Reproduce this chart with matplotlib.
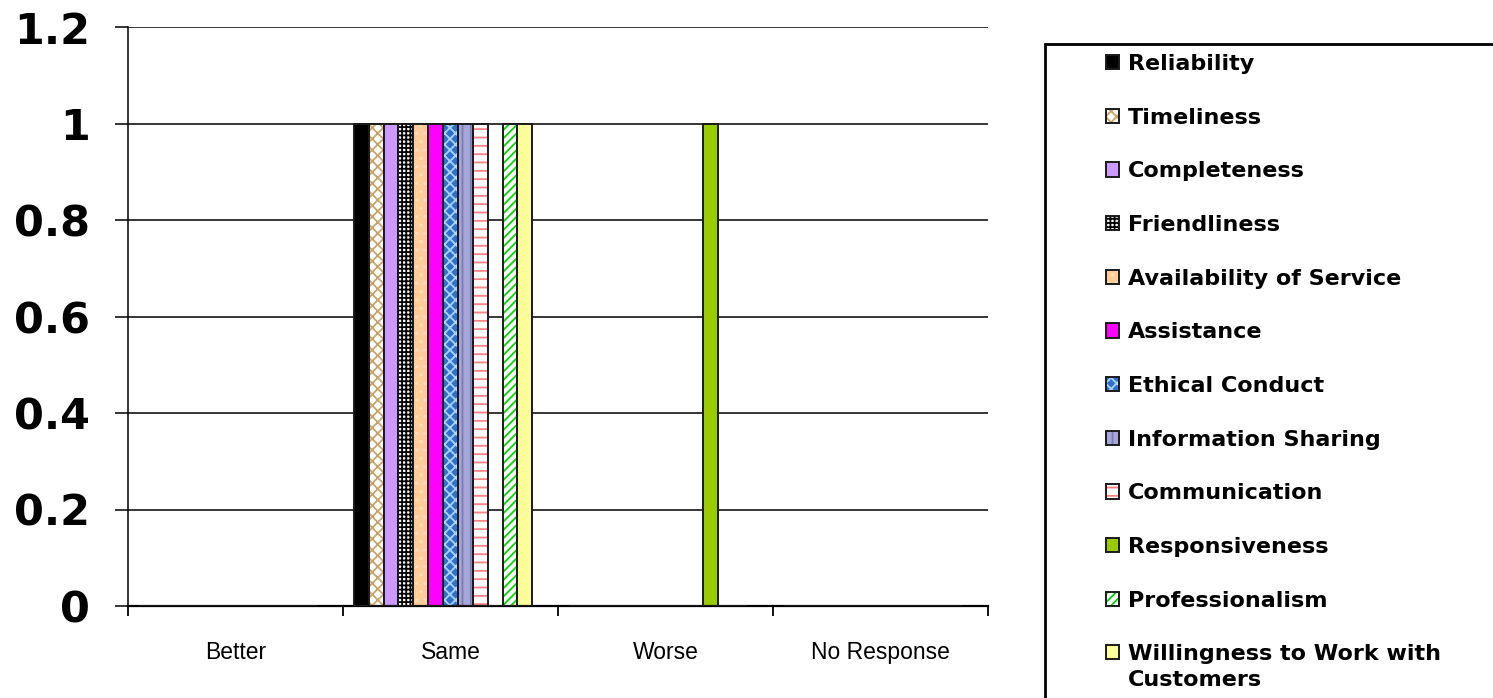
import matplotlib
matplotlib.use("Agg")
import matplotlib.pyplot as plt
from matplotlib.patches import Rectangle, Patch
from matplotlib.legend_handler import HandlerTuple
import numpy as np

categories = ["Better", "Same", "Worse", "No Response"]
series_names = [
    "Reliability", "Timeliness", "Completeness", "Friendliness",
    "Availability of Service", "Assistance", "Ethical Conduct",
    "Information Sharing", "Communication", "Responsiveness",
    "Professionalism", "Willingness to Work with\nCustomers",
]
reliability = [0, 1, 0, 0]
timeliness = [0, 1, 0, 0]
completeness = [0, 1, 0, 0]
friendliness = [0, 1, 0, 0]
availability = [0, 1, 0, 0]
assistance = [0, 1, 0, 0]
ethical_conduct = [0, 1, 0, 0]
information_sharing = [0, 1, 0, 0]
communication = [0, 1, 0, 0]
responsiveness = [0, 0, 1, 0]
professionalism = [0, 1, 0, 0]
willingness = [0, 1, 0, 0]
series_values = [
    reliability, timeliness, completeness, friendliness, availability,
    assistance, ethical_conduct, information_sharing, communication,
    responsiveness, professionalism, willingness,
]
y_ticks = [0, 0.2, 0.4, 0.6, 0.8, 1, 1.2]
y_tick_labels = ["0", "0.2", "0.4", "0.6", "0.8", "1", "1.2"]

# (face colour, hatch, hatch colour) per series
styles = [
    ("#000000", None, "#000000"),
    ("#FFFFFF", "xxx", "#C9A468"),
    ("#CC99FF", None, "#CC99FF"),
    ("#FFFFFF", "++++", "#000000"),
    ("#FFCC99", "..", "#FFDDB8"),
    ("#FF00FF", None, "#FF00FF"),
    ("#2F6FD0", "xxx", "#A8D4FF"),
    ("#A6A6D8", "||", "#7C7CB4"),
    ("#FFFFFF", "--", "#FF8080"),
    ("#99CC00", None, "#99CC00"),
    ("#FFFFFF", "////", "#00D800"),
    ("#FFFF99", None, "#FFFF99"),
]

plt.rcParams["hatch.linewidth"] = 1.3

fig = plt.figure(figsize=(14.93, 6.98), dpi=100)
ax = fig.add_axes([128 / 1493, 1 - 606 / 698, (988 - 128) / 1493, (606 - 27) / 698])

x = np.arange(len(categories))
slot = 0.9 / 13
start = -0.45

handles = []
for i, (vals, (face, hatch, hcol)) in enumerate(zip(series_values, styles)):
    pos = x + start + i * slot
    ax.bar(pos, vals, width=slot, align="edge", color=face,
           hatch=hatch, edgecolor=hcol, linewidth=0, zorder=2)
    ax.bar(pos, vals, width=slot, align="edge", fill=False,
           edgecolor="#1a1a1a", linewidth=1.4, zorder=3)
    h_fill = Patch(facecolor=face, hatch=hatch, edgecolor=hcol, linewidth=0)
    h_edge = Patch(fill=False, edgecolor="#1a1a1a", linewidth=1.4)
    handles.append((h_fill, h_edge))

ax.set_xlim(-0.5, len(categories) - 0.5)
ax.set_ylim(0, 1.2)
ax.set_yticks(y_ticks)
ax.set_yticklabels(y_tick_labels, fontfamily="DejaVu Sans", fontweight="bold",
                   fontsize=31)
ax.yaxis.grid(True, color="black", linewidth=1.1, zorder=0)
ax.set_axisbelow(True)
ax.tick_params(axis="y", length=9.5, width=1.1, pad=18)

ax.set_xticks(np.arange(len(categories) + 1) - 0.5)
ax.set_xticklabels([])
ax.set_xticks(x, minor=True)
ax.set_xticklabels(categories, minor=True, fontfamily="Liberation Sans",
                   fontsize=16.5)
ax.tick_params(axis="x", which="major", length=7.5, width=1.3)
ax.tick_params(axis="x", which="minor", length=0, pad=25)

for side in ("top", "right"):
    ax.spines[side].set_visible(False)
ax.spines["left"].set_linewidth(1.1)
ax.spines["bottom"].set_linewidth(1.6)

# legend frame, running past the figure's right and bottom edges
fig.patches.append(Rectangle((1045 / 1493, -0.05), 0.5, 1 - 44 / 698 + 0.05,
                             transform=fig.transFigure, fill=False,
                             edgecolor="black", linewidth=2, clip_on=False))

fs = 16


class FirstLineHandler(HandlerTuple):
    """Overlaid swatch aligned with the first line of a two-line label."""

    def __init__(self, shift, **kw):
        super().__init__(**kw)
        self.shift = shift

    def create_artists(self, legend, orig_handle, xdescent, ydescent, width,
                       height, fontsize, trans):
        return super().create_artists(legend, orig_handle, xdescent,
                                      ydescent - self.shift, width, height,
                                      fontsize, trans)


handler_map = {tuple: HandlerTuple(ndivide=1, pad=0)}
handler_map[handles[-1]] = FirstLineHandler(shift=fs * 0.68, ndivide=1, pad=0)

leg = fig.legend(handles, series_names, handler_map=handler_map,
                 loc="upper left", bbox_to_anchor=(1106 / 1493, 1 - 54 / 698),
                 frameon=False, borderpad=0, borderaxespad=0,
                 handlelength=0.6, handleheight=0.6, handletextpad=0.4,
                 labelspacing=1.515,
                 prop={"family": "DejaVu Sans", "weight": "bold", "size": fs})
for t in leg.get_texts():
    t.set_linespacing(1.35)

fig.savefig("out.png", dpi=100)
